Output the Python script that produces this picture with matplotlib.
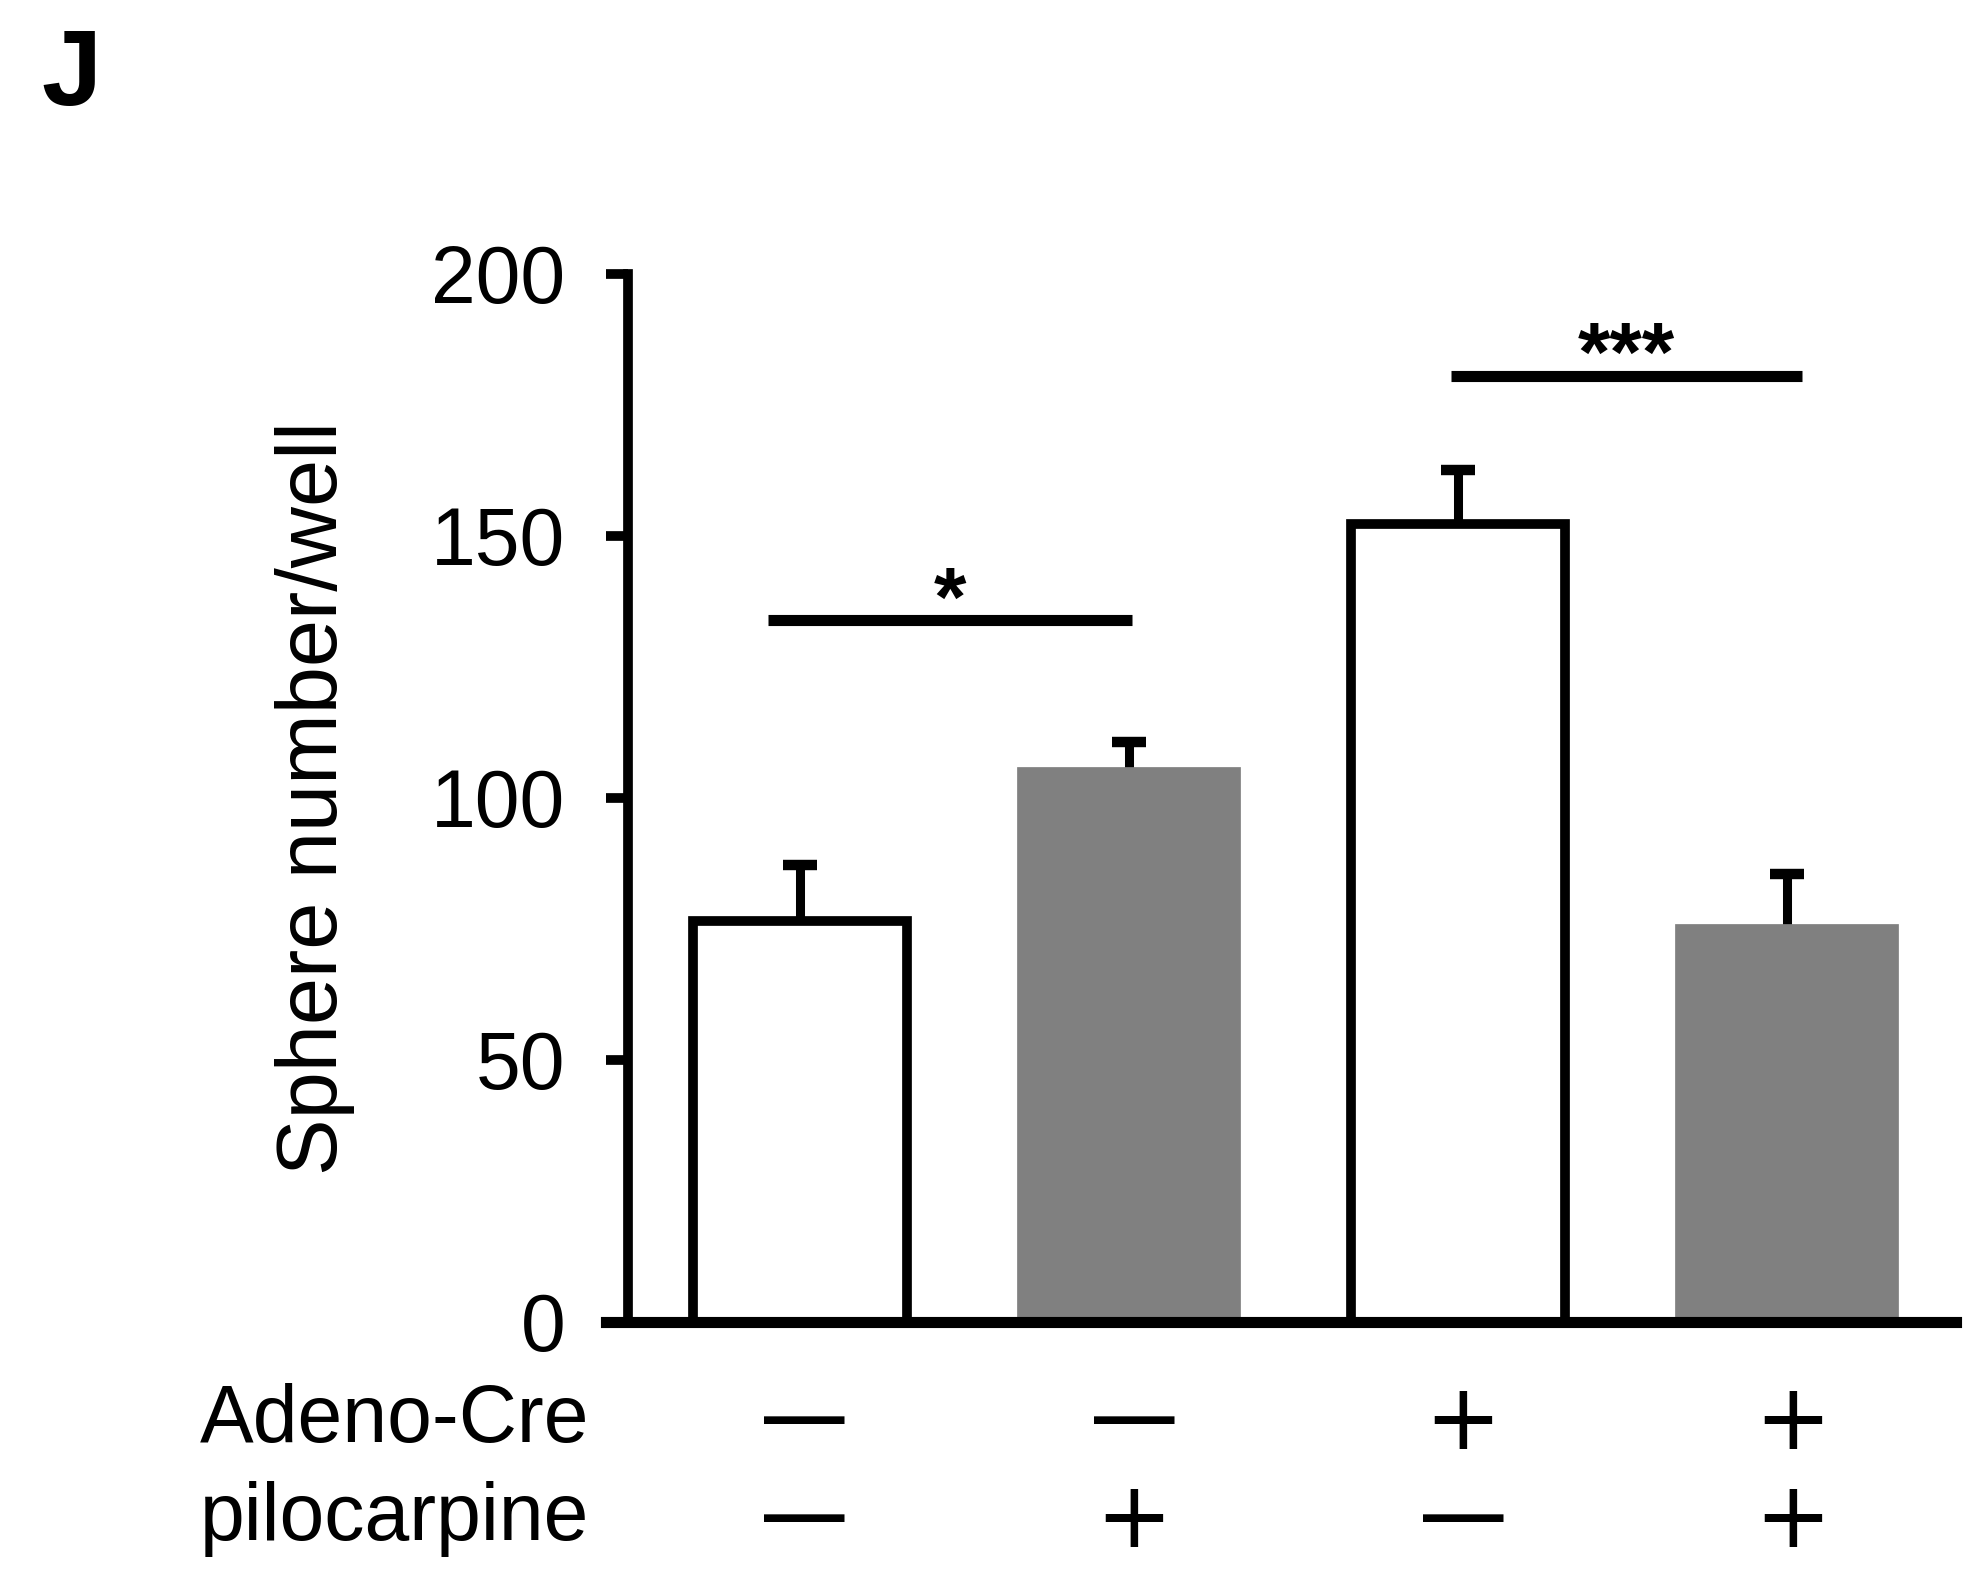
#!/usr/bin/env python3
import matplotlib.pyplot as plt
import numpy as np

# Dati
groups = ['ctrl', 'pilo', 'cre', 'cre+pilo']
means = [76.5, 104.9, 152.2, 75.0]
errs = [10.6, 5.8, 10.4, 10.4]
colors = ['white', '#808080', 'white', '#808080']
edges = ['black', '#808080', 'black', '#808080']
adeno_cre = ['—', '—', '+', '+']
pilocarpine = ['—', '+', '—', '+']
yticks = [0, 50, 100, 150, 200]

# confronti: (inizio linea, fine linea, altezza, etichetta)
comparisons = [(-0.096, 1.010, 133.9, '*'), (1.977, 3.044, 180.5, '***')]

plt.rcParams['font.family'] = ['Liberation Sans', 'DejaVu Sans']

fig = plt.figure(figsize=(19.81, 15.70), dpi=100)
ax = fig.add_axes([0.3059, 0.1582, 0.6815, 0.6673])

x = np.arange(len(groups))
# barre d'errore sotto le barre: si vede solo la parte superiore
ax.errorbar(x, means, yerr=errs, fmt='none', ecolor='black', elinewidth=6.5,
            capsize=12, capthick=7.5, zorder=2)
ax.bar(x, means, width=0.65, color=colors, edgecolor=edges, linewidth=7,
       zorder=3)

for x0, x1, h, lab in comparisons:
    ax.plot([x0, x1], [h, h], color='black', lw=8, solid_capstyle='butt')
    ax.text((x0 + x1) / 2, h - 1.0, lab, ha='center', va='baseline',
            fontsize=60, fontweight='bold')

ax.set_xlim(-0.588, 3.512)
ax.set_ylim(0, 200)
ax.spines['left'].set_position(('data', -0.521))
ax.spines['left'].set_linewidth(7)
ax.spines['bottom'].set_linewidth(8)
ax.spines['right'].set_visible(False)
ax.spines['top'].set_visible(False)
ax.spines['left'].set_zorder(5)
ax.spines['bottom'].set_zorder(5)

ax.set_yticks(yticks)
ax.tick_params(axis='y', direction='out', length=16, width=7,
               labelsize=58, pad=29)
ax.set_xticks([])
ax.set_ylabel('Sphere number/well', fontsize=61)
ax.yaxis.set_label_coords(-0.186, 0.5)

# righe dei trattamenti sotto l'asse x
tr = ax.get_xaxis_transform()
rows = [('Adeno-Cre', adeno_cre, -0.0949), ('pilocarpine', pilocarpine, -0.1884)]
for name, signs, yy in rows:
    ax.text(-0.64, yy, name, transform=tr, ha='right', va='center',
            fontsize=58, clip_on=False)
    for xi, s in zip(x, signs):
        if s == '—':
            ax.text(xi + 0.015, yy, s, transform=tr, ha='center', va='center',
                    fontsize=58, fontweight='bold', clip_on=False)
        else:
            ax.text(xi + 0.015, yy - 0.002, s, transform=tr, ha='center',
                    va='center', fontsize=66, family='DejaVu Sans',
                    clip_on=False)

fig.text(0.021, 0.983, 'J', fontsize=78, fontweight='bold', va='top')

plt.savefig('out.png', dpi=100)
plt.close()
